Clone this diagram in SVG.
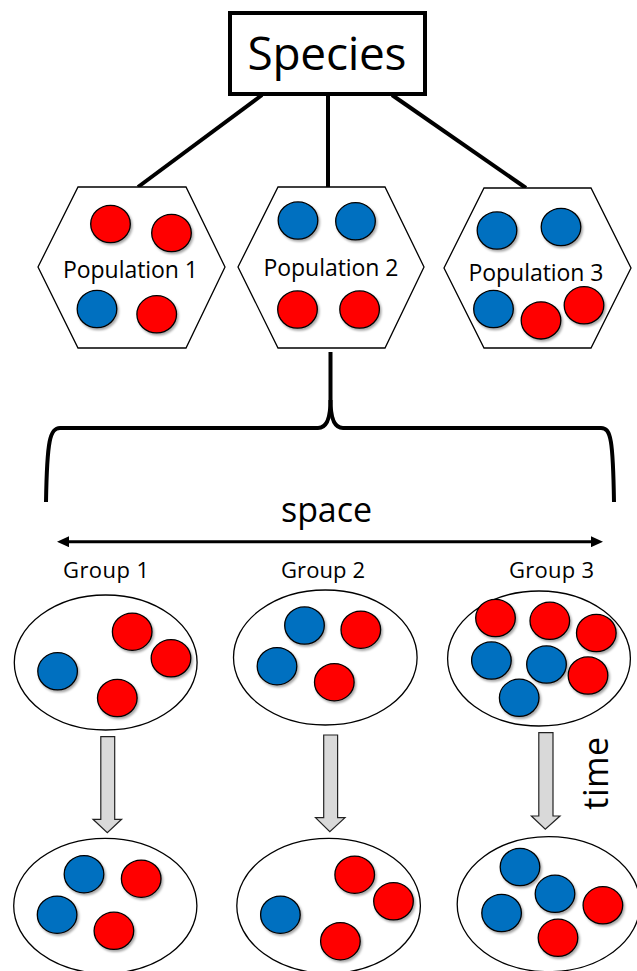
<svg xmlns="http://www.w3.org/2000/svg" width="637" height="971" viewBox="0 0 637 971">
<defs>
<style>
.txt{font-family:"Open Sans","Liberation Sans",sans-serif;fill:#000}
.hex{fill:#fff;stroke:#000;stroke-width:1.3}
.oval{fill:#fff;stroke:#000;stroke-width:1.3}
.r{fill:#FF0000;stroke:#000;stroke-width:1.3;filter:url(#sh)}
.b{fill:#0070C0;stroke:#000;stroke-width:1.3;filter:url(#sh)}
.con{fill:none;stroke:#000;stroke-width:4}
.blk{fill:#D9D9D9;stroke:#222;stroke-width:1.2;stroke-linejoin:miter}
</style>
<filter id="sh" x="-30%" y="-30%" width="170%" height="170%">
<feDropShadow dx="1.5" dy="2" stdDeviation="1.3" flood-color="#000" flood-opacity="0.35"/>
</filter>
<marker id="ah" viewBox="0 0 12 11" refX="7" refY="5.5" markerWidth="12" markerHeight="11" markerUnits="userSpaceOnUse" orient="auto-start-reverse">
<path d="M0,0 L12,5.5 L0,11 z" fill="#000"/>
</marker>
</defs>
<rect width="637" height="971" fill="#fff"/>

<g id="connectors">
<line class="con" x1="262" y1="95" x2="138" y2="187"/>
<line class="con" x1="328" y1="95" x2="328" y2="188"/>
<line class="con" x1="392" y1="95" x2="526" y2="188"/>
<path class="con" d="M330.5,352 L330.5,400 C330.5,420 326,428 318,428 L60,428 C50,428 47,440 46,502"/>
<path class="con" d="M330.5,400 C330.5,420 335,428 343,428 L601,428 C611,428 613,440 614,502"/>
<line x1="62" y1="541.7" x2="598" y2="541.7" stroke="#000" stroke-width="3" marker-start="url(#ah)" marker-end="url(#ah)"/>
<path class="blk" d="M100.8,736.7 L114.7,736.7 L114.7,819.3 L121.6,819.3 L107.3,832.7 L93,819.3 L100.8,819.3 z"/>
<path class="blk" d="M323.7,735 L337.6,735 L337.6,817.7 L345,817.7 L329.8,831.7 L315.5,817.7 L323.7,817.7 z"/>
<path class="blk" d="M538.8,732.7 L553,732.7 L553,816 L560,816 L545.3,829.3 L531.4,816 L538.8,816 z"/>
</g>

<g id="species">
<rect x="230" y="13" width="195" height="81" fill="#fff" stroke="#000" stroke-width="4"/>
<text class="txt" x="327" y="70" font-size="46" text-anchor="middle" textLength="159">Species</text>
</g>

<g id="pop1">
<polygon class="hex" points="78,187 186,187 225,267 186,348 78,348 38,267"/>
<ellipse class="r" cx="110.5" cy="224" rx="19.8" ry="18.6"/>
<ellipse class="r" cx="171.5" cy="233" rx="19.8" ry="18.6"/>
<ellipse class="b" cx="97" cy="309" rx="19.8" ry="18.6"/>
<ellipse class="r" cx="156.7" cy="314.3" rx="19.8" ry="18.6"/>
<text class="txt" x="130.5" y="278.3" font-size="23" text-anchor="middle" textLength="135">Population 1</text>
</g>

<g id="pop2">
<polygon class="hex" points="278,187 385,187 424,267 385,348 278,348 238,267"/>
<ellipse class="b" cx="298" cy="220.5" rx="19.8" ry="18.6"/>
<ellipse class="b" cx="355.5" cy="221.3" rx="19.8" ry="18.6"/>
<ellipse class="r" cx="297.5" cy="309.5" rx="19.8" ry="18.6"/>
<ellipse class="r" cx="359.6" cy="309.5" rx="19.8" ry="18.6"/>
<text class="txt" x="331" y="276" font-size="23" text-anchor="middle" textLength="135">Population 2</text>
</g>

<g id="pop3">
<polygon class="hex" points="484,188 591,188 631,268 591,348 484,348 444,268"/>
<ellipse class="b" cx="497" cy="230.5" rx="19.8" ry="18.6"/>
<ellipse class="b" cx="561" cy="227" rx="19.8" ry="18.6"/>
<ellipse class="b" cx="493.5" cy="309" rx="19.8" ry="18.6"/>
<ellipse class="r" cx="541" cy="320.4" rx="19.8" ry="18.6"/>
<ellipse class="r" cx="584" cy="305.3" rx="19.8" ry="18.6"/>
<text class="txt" x="536" y="280.7" font-size="23" text-anchor="middle" textLength="135">Population 3</text>
</g>

<g id="space-label">
<text class="txt" x="326.5" y="521.7" font-size="34" text-anchor="middle" textLength="91">space</text>
</g>

<g id="time-label">
<text class="txt" transform="translate(608,773.3) rotate(-90)" x="0" y="0" font-size="34" text-anchor="middle" textLength="73">time</text>
</g>

<g id="group1">
<text class="txt" x="106" y="578.3" font-size="22" text-anchor="middle" textLength="86">Group 1</text>
<ellipse class="oval" cx="105.7" cy="662.5" rx="91.4" ry="67.5"/>
<ellipse class="r" cx="132.2" cy="631.7" rx="19.8" ry="18.6"/>
<ellipse class="r" cx="171" cy="658.3" rx="19.8" ry="18.6"/>
<ellipse class="b" cx="57.6" cy="671.3" rx="19.8" ry="18.6"/>
<ellipse class="r" cx="117.3" cy="698" rx="19.8" ry="18.6"/>
</g>

<g id="group2">
<text class="txt" x="323" y="578.3" font-size="22" text-anchor="middle" textLength="84">Group 2</text>
<ellipse class="oval" cx="325.3" cy="657.5" rx="91.8" ry="67.5"/>
<ellipse class="b" cx="304.5" cy="625.5" rx="19.8" ry="18.6"/>
<ellipse class="r" cx="360.8" cy="629.7" rx="19.8" ry="18.6"/>
<ellipse class="b" cx="277" cy="666.2" rx="19.8" ry="18.6"/>
<ellipse class="r" cx="334.3" cy="682.2" rx="19.8" ry="18.6"/>
</g>

<g id="group3">
<text class="txt" x="551.5" y="578.3" font-size="22" text-anchor="middle" textLength="85">Group 3</text>
<ellipse class="oval" cx="539" cy="658.5" rx="91.4" ry="67.5"/>
<ellipse class="r" cx="495.5" cy="618" rx="19.8" ry="18.6"/>
<ellipse class="r" cx="549.8" cy="620.8" rx="19.8" ry="18.6"/>
<ellipse class="r" cx="596.3" cy="633" rx="19.8" ry="18.6"/>
<ellipse class="b" cx="491.4" cy="660.5" rx="19.8" ry="18.6"/>
<ellipse class="b" cx="546.5" cy="664.5" rx="19.8" ry="18.6"/>
<ellipse class="r" cx="588" cy="675.5" rx="19.8" ry="18.6"/>
<ellipse class="b" cx="519.2" cy="697.8" rx="19.8" ry="18.6"/>
</g>

<g id="group1-later">
<ellipse class="oval" cx="105.3" cy="905.8" rx="91.6" ry="67.5"/>
<ellipse class="b" cx="84" cy="874.2" rx="19.8" ry="18.6"/>
<ellipse class="r" cx="141.2" cy="878.7" rx="19.8" ry="18.6"/>
<ellipse class="b" cx="57.1" cy="914.7" rx="19.8" ry="18.6"/>
<ellipse class="r" cx="113.9" cy="930.8" rx="19.8" ry="18.6"/>
</g>

<g id="group2-later">
<ellipse class="oval" cx="328.6" cy="905.8" rx="91.8" ry="67.5"/>
<ellipse class="r" cx="354.7" cy="874.7" rx="19.8" ry="18.6"/>
<ellipse class="r" cx="393.5" cy="901.3" rx="19.8" ry="18.6"/>
<ellipse class="b" cx="280.4" cy="914.7" rx="19.8" ry="18.6"/>
<ellipse class="r" cx="340.4" cy="941.2" rx="19.8" ry="18.6"/>
</g>

<g id="group3-later">
<ellipse class="oval" cx="548.6" cy="904.2" rx="91.4" ry="67.5"/>
<ellipse class="b" cx="520" cy="867" rx="19.8" ry="18.6"/>
<ellipse class="b" cx="555" cy="893.8" rx="19.8" ry="18.6"/>
<ellipse class="r" cx="602.9" cy="905.3" rx="19.8" ry="18.6"/>
<ellipse class="b" cx="501.6" cy="913" rx="19.8" ry="18.6"/>
<ellipse class="r" cx="558" cy="937.8" rx="19.8" ry="18.6"/>
</g>
</svg>
